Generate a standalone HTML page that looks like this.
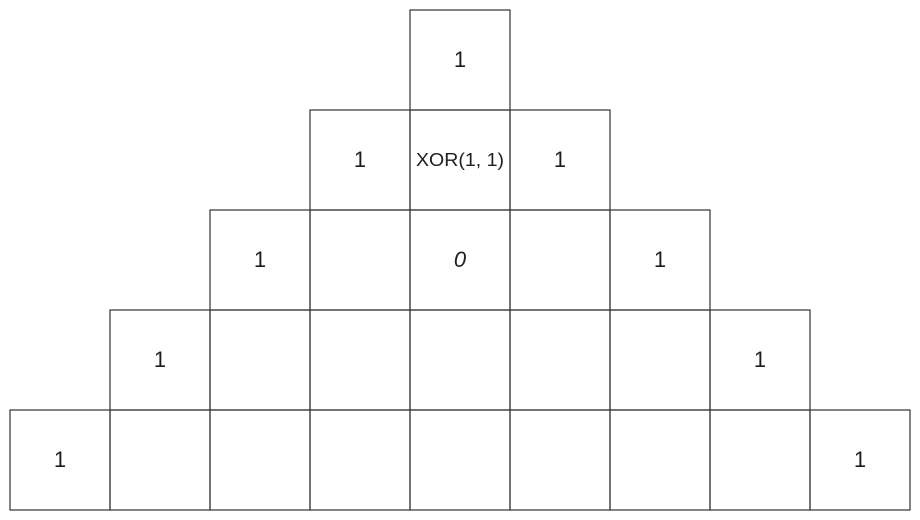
<!DOCTYPE html>
<html><head><style>html,body{margin:0;padding:0;background:#fff}svg{display:block}</style></head>
<body>
<svg width="920" height="520" xmlns="http://www.w3.org/2000/svg">
<g fill="none" stroke="#333" stroke-width="1.2">
<rect x="410" y="10" width="100" height="100"/>
<rect x="310" y="110" width="100" height="100"/><rect x="410" y="110" width="100" height="100"/><rect x="510" y="110" width="100" height="100"/>
<rect x="210" y="210" width="100" height="100"/><rect x="310" y="210" width="100" height="100"/><rect x="410" y="210" width="100" height="100"/><rect x="510" y="210" width="100" height="100"/><rect x="610" y="210" width="100" height="100"/>
<rect x="110" y="310" width="100" height="100"/><rect x="210" y="310" width="100" height="100"/><rect x="310" y="310" width="100" height="100"/><rect x="410" y="310" width="100" height="100"/><rect x="510" y="310" width="100" height="100"/><rect x="610" y="310" width="100" height="100"/><rect x="710" y="310" width="100" height="100"/>
<rect x="10" y="410" width="100" height="100"/><rect x="110" y="410" width="100" height="100"/><rect x="210" y="410" width="100" height="100"/><rect x="310" y="410" width="100" height="100"/><rect x="410" y="410" width="100" height="100"/><rect x="510" y="410" width="100" height="100"/><rect x="610" y="410" width="100" height="100"/><rect x="710" y="410" width="100" height="100"/><rect x="810" y="410" width="100" height="100"/>
</g>
<g font-family="Liberation Sans, sans-serif" font-size="22" fill="#1e1e1e" text-anchor="middle">
<text x="460" y="67">1</text>
<text x="360" y="167">1</text>
<text x="560" y="167">1</text>
<text x="260" y="267">1</text>
<text x="460" y="267" font-style="italic">0</text>
<text x="660" y="267">1</text>
<text x="160" y="367">1</text>
<text x="760" y="367">1</text>
<text x="60" y="467">1</text>
<text x="860" y="467">1</text>
<text x="460" y="166" font-size="18" textLength="88" lengthAdjust="spacingAndGlyphs">XOR(1, 1)</text>
</g>
</svg>
</body></html>
